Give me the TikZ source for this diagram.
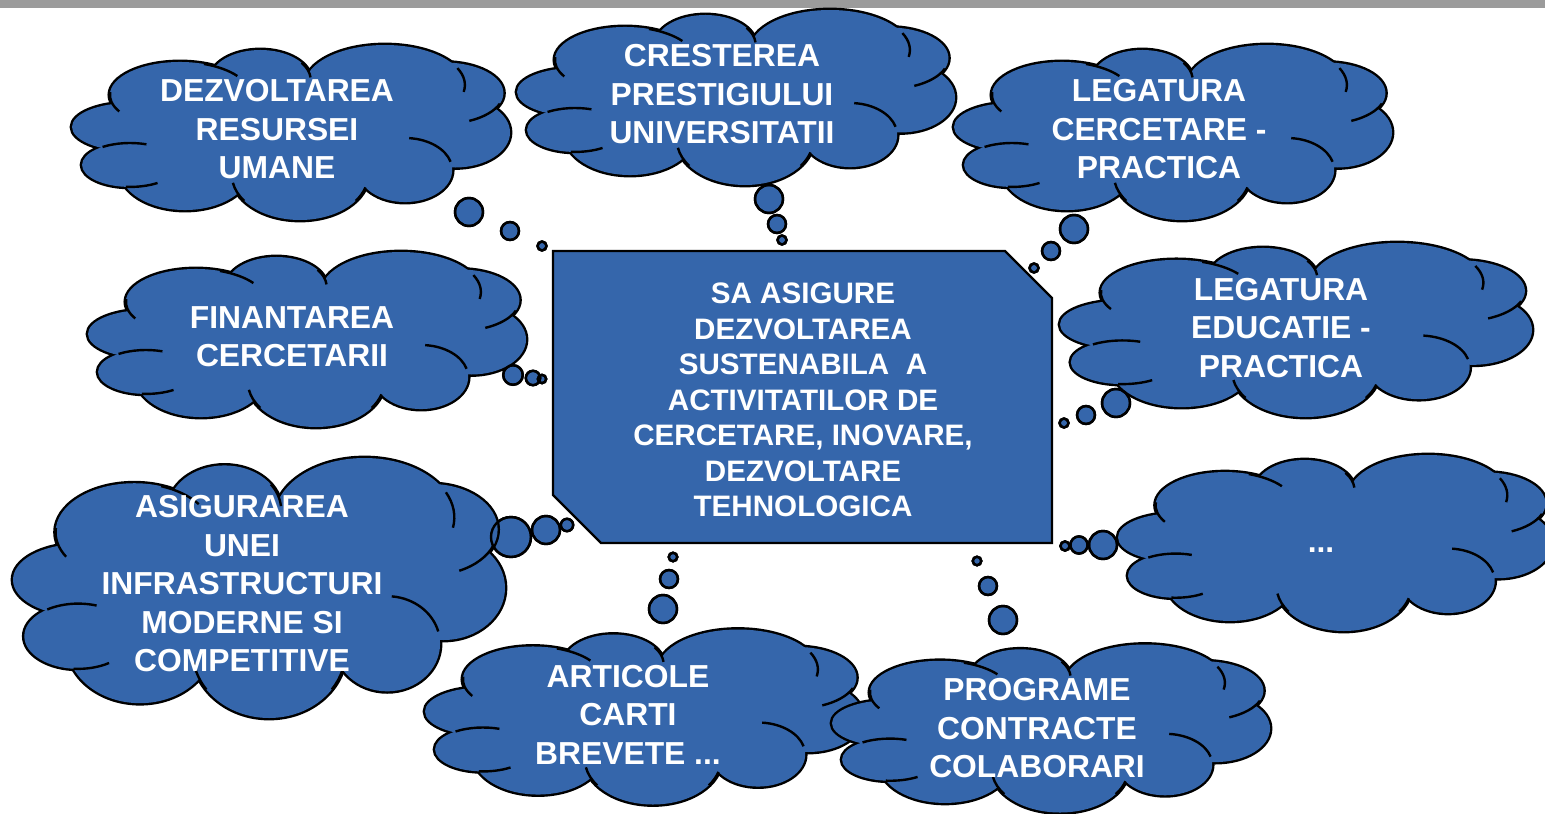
\documentclass[tikz,border=0pt]{standalone}
\usepackage{fontspec}
\setmainfont{Liberation Sans}

\definecolor{cloudblue}{RGB}{53,102,171}
\definecolor{bargray}{RGB}{155,155,155}

\tikzset{%
	cloud text/.style={
		align=center,
		text=white,
		inner sep=0pt,
		font=\fontsize{15.9}{19.25}\selectfont\bfseries
	},
	goal text/.style={
		cloud text,
		font=\fontsize{14.8}{17.75}\selectfont\bfseries
	},
	outline/.style={draw=black, line width=1.2pt},
}

% puffs of one cloud: centre and radii, cloud spans -1..1
\def\cloudpuffs{-0.735/-0.063/0.265/0.274, -0.507/-0.429/0.320/0.377,
	-0.14/-0.6/0.23/0.343, 0.429/-0.543/0.365/0.457, 0.70/-0.45/0.27/0.35,
	0.75/0.0/0.25/0.40, 0.521/0.429/0.215/0.366, 0.041/0.486/0.311/0.514,
	-0.484/0.429/0.297/0.457, -0.735/0.371/0.219/0.251, 0/0/0.68/0.63}
% short inner arcs
\def\cloudfolds{-0.507/-0.429/0.320/0.377/150/185, -0.507/-0.429/0.320/0.377/290/325,
	-0.14/-0.6/0.23/0.343/325/355, 0.429/-0.543/0.365/0.457/335/370,
	0.70/-0.45/0.27/0.35/20/65, 0.521/0.429/0.215/0.366/275/345,
	0.041/0.486/0.311/0.514/16/35, 0.041/0.486/0.311/0.514/145/170,
	-0.735/0.371/0.219/0.251/235/290, -0.735/0.371/0.219/0.251/55/95}

\newcommand{\thoughtcloud}[4]{%
	\begin{scope}[shift={(#1,#2)}, xscale=#3, yscale=#4]
		\foreach \u/\v/\a/\b in \cloudpuffs
			\draw[line width=2.4pt] (\u,\v) ellipse [x radius=\a, y radius=\b];
		\foreach \u/\v/\a/\b in \cloudpuffs
			\fill[cloudblue] (\u,\v) ellipse [x radius=\a, y radius=\b];
		\foreach \u/\v/\a/\b/\s/\e in \cloudfolds
			\draw[outline] ({\u+\a*cos(\s)},{\v+\b*sin(\s)}) arc [start angle=\s, end angle=\e, x radius=\a, y radius=\b];
	\end{scope}}

% the small bubbles between clouds and box
\def\bubbles{469/212/14, 510/231/9, 542/246/4.5,
	769/199/14, 777/224/9, 782/240/4.5,
	1074/229/14, 1051/251/9, 1034/268/4.5,
	513/375/9.8, 533/378/7.2, 542/379/4.2,
	1116/403/14, 1086/415/9, 1064/423/4.5,
	511/537/20, 546/530/14, 567/525/6.2,
	1103/545/14, 1079/545/8.6, 1065/546/4.6,
	663/609/14, 669/579/9, 673/557/4.3,
	1003/620/14, 988/586/9, 977/561/4.3}

\begin{document}
\begin{tikzpicture}[x=0.5pt, y=-0.5pt]
\clip (0,0) rectangle (1545,813);
\fill[white] (0,0) rectangle (1545,813);
\fill[bargray] (0,0) rectangle (1545,8);

\foreach \x/\y/\r in \bubbles
	\fill[cloudblue] (\x,\y) circle [radius=\r];
\foreach \x/\y/\r in \bubbles
	\draw[outline] (\x,\y) circle [radius=\r];

% clouds
\foreach \cx/\cy/\w/\h in {291/132.5/219/87.5, 736/97.5/219/87.5, 1173/132.5/219/87.5,
	307/339.5/219/87.5, 1296/330/236/87, 259/588/246/130, 1335/543/217/88,
	644/717/219/87.5, 1051/728.5/219/84}
	{\thoughtcloud{\cx}{\cy}{\w}{\h}}

\foreach \x/\y/\r in \bubbles
	\draw[outline] (\x,\y) circle [radius=\r];

% central box
\draw[outline, fill=cloudblue] (553,251) -- (1005,251) -- (1052,298) -- (1052,543)
	-- (601,543) -- (553,495) -- cycle;
\node[goal text] (goal) at (803,400) {SA ASIGURE\\DEZVOLTAREA\\SUSTENABILA\ \ A\\ACTIVITATILOR DE\\CERCETARE, INOVARE,\\DEZVOLTARE\\TEHNOLOGICA};

\foreach \x/\y/\t [count=\i] in {277/129.5/{DEZVOLTAREA\\RESURSEI\\UMANE},
	722/94.5/{CRESTEREA\\PRESTIGIULUI\\UNIVERSITATII},
	1159/129.5/{LEGATURA\\CERCETARE -\\PRACTICA},
	292/336.5/{FINANTAREA\\CERCETARII},
	1281/328/{LEGATURA\\EDUCATIE -\\PRACTICA},
	242/584/{ASIGURAREA\\UNEI\\INFRASTRUCTURI\\MODERNE SI\\COMPETITIVE},
	628/714.5/{ARTICOLE\\CARTI\\BREVETE ...},
	1037/728.5/{PROGRAME\\CONTRACTE\\COLABORARI}}
	\node[cloud text] (idea-\i) at (\x,\y) {\t};
\node[cloud text, anchor=base] (idea-more) at (1321,552) {...};

\end{tikzpicture}
\end{document}
